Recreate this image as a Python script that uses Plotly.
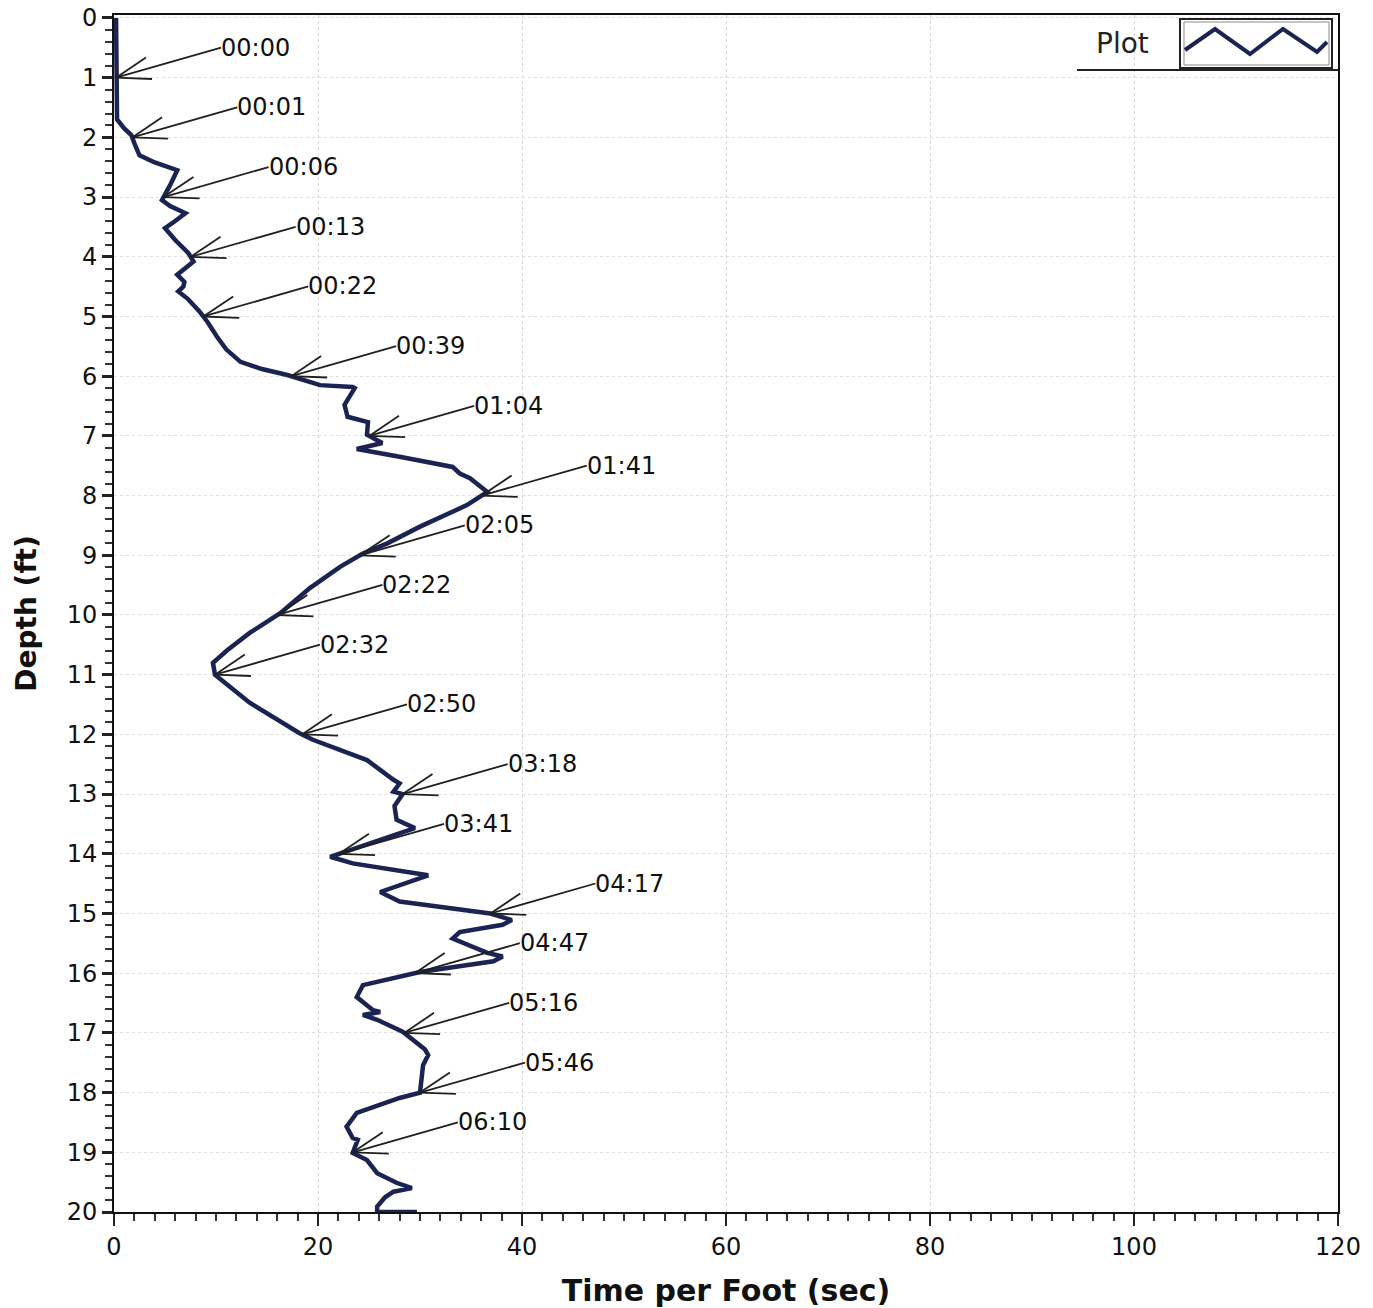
import math
import numpy as np
import plotly.graph_objects as go

# ---- data ----
time_per_foot = [0.2, 0.2, 0.2, 0.3, 1.0, 1.7, 2.0, 2.5, 4.0, 6.2, 5.5, 4.7, 5.5, 7.0, 6.0, 5.0, 6.0,
                 7.3, 7.8, 7.0, 6.2, 6.9, 6.8, 6.3, 7.2, 8.4, 9.2, 10.1, 11.0, 12.4, 14.5, 17.0, 20.2,
                 23.4, 23.6, 22.6, 22.9, 24.9, 24.8, 26.3, 23.8, 28.0, 33.2, 33.9, 34.9, 36.6, 34.6,
                 30.0, 26.8, 24.4, 22.2, 19.2, 18.2, 16.3, 13.3, 11.1, 9.7, 9.9, 13.3, 18.2, 19.5,
                 22.2, 24.8, 27.4, 28.0, 27.4, 28.3, 27.5, 27.7, 29.5, 21.2, 23.4, 30.8, 26.1, 28.0,
                 36.9, 39.0, 38.1, 33.9, 33.2, 35.6, 36.6, 38.1, 37.2, 30.0, 24.4, 23.8, 25.4, 26.1,
                 24.4, 25.8, 28.3, 30.5, 30.8, 30.3, 30.0, 28.0, 23.8, 22.8, 23.4, 23.9, 23.4, 24.8,
                 25.8, 27.7, 28.7, 29.2, 27.4, 26.6, 25.8, 25.8, 29.7]
depth_ft = [0.0, 1.0, 1.55, 1.7, 1.85, 1.96, 2.1, 2.3, 2.42, 2.55, 2.8, 3.05, 3.15, 3.27, 3.4, 3.52, 3.72,
            3.94, 4.08, 4.18, 4.3, 4.42, 4.5, 4.58, 4.7, 4.92, 5.1, 5.34, 5.55, 5.76, 5.88, 5.98, 6.15,
            6.18, 6.2, 6.48, 6.68, 6.77, 6.98, 7.12, 7.22, 7.35, 7.52, 7.63, 7.71, 7.94, 8.16,
            8.52, 8.8, 8.97, 9.19, 9.55, 9.7, 9.97, 10.3, 10.59, 10.8, 11.0, 11.47, 11.98, 12.09,
            12.26, 12.43, 12.76, 12.82, 12.96, 13.0, 13.2, 13.43, 13.57, 14.05, 14.16, 14.36, 14.64, 14.8,
            15.0, 15.11, 15.19, 15.31, 15.42, 15.58, 15.66, 15.72, 15.8, 15.98, 16.2, 16.4, 16.62, 16.65,
            16.7, 16.78, 16.98, 17.28, 17.37, 17.54, 18.0, 18.09, 18.34, 18.57, 18.76, 18.79, 19.01, 19.13,
            19.35, 19.51, 19.58, 19.6, 19.66, 19.75, 19.91, 20.0, 20.0]

label_depths = list(range(1, 20))
label_times = ["00:00", "00:01", "00:06", "00:13", "00:22", "00:39", "01:04", "01:41", "02:05",
               "02:22", "02:32", "02:50", "03:18", "03:41", "04:17", "04:47", "05:16", "05:46", "06:10"]

x_tick_vals = [0, 20, 40, 60, 80, 100, 120]
y_tick_vals = list(range(0, 21))

# ---- style ----
NAVY = "#1a2352"
FONT = "DejaVu Sans"
ARROW_COLOR = "#202020"
ARROW_DX, ARROW_DY = 105, 30      # pixel offset of label from arrow head (up-right)
WING_LEN, WING_ANGLE = 36, math.radians(18)

fig = go.Figure()
fig.add_trace(go.Scatter(x=time_per_foot, y=depth_ft, mode="lines", name="Plot",
                         line=dict(color=NAVY, width=4.5), showlegend=False))

head_x = np.interp(label_depths, depth_ft, time_per_foot)

shapes = []
annotations = []
theta = math.atan2(ARROW_DY, ARROW_DX)
for hx, d, t in zip(head_x, label_depths, label_times):
    hx = float(hx)
    segs = [(ARROW_DX, ARROW_DY)]
    for s in (-1, 1):
        a = theta + s * WING_ANGLE
        segs.append((WING_LEN * math.cos(a), WING_LEN * math.sin(a)))
    for ex, ey in segs:
        shapes.append(dict(type="line", xref="x", yref="y",
                           xsizemode="pixel", xanchor=hx, x0=0, x1=ex,
                           ysizemode="pixel", yanchor=d, y0=0, y1=ey,
                           line=dict(color=ARROW_COLOR, width=1.8)))
    annotations.append(dict(x=hx, y=d, xref="x", yref="y", text=t, showarrow=False,
                            xshift=ARROW_DX - 2, yshift=ARROW_DY, xanchor="left", yanchor="middle",
                            font=dict(family=FONT, size=24, color="#111111")))

# ---- custom legend box (top-right) ----
def px_shape(**kw):
    base = dict(xref="paper", yref="paper", xsizemode="pixel", ysizemode="pixel", xanchor=1, yanchor=1)
    base.update(kw)
    return base

shapes.append(px_shape(type="line", x0=-261, x1=0, y0=-55, y1=-55,
                       line=dict(color="#222222", width=2)))
shapes.append(px_shape(type="rect", x0=-158, x1=-6, y0=-4, y1=-53,
                       line=dict(color="#222222", width=2), fillcolor="white"))
shapes.append(px_shape(type="rect", x0=-154, x1=-9, y0=-7, y1=-50,
                       line=dict(color="#888888", width=1)))
shapes.append(px_shape(type="path",
                       path="M -153,-35 L -123,-14 L -88,-39 L -55,-14 L -21,-37 L -11,-27",
                       line=dict(color=NAVY, width=4)))
annotations.append(dict(xref="paper", yref="paper", x=1, y=1, xshift=-216, yshift=-28,
                        text="Plot", showarrow=False, xanchor="center", yanchor="middle",
                        font=dict(family=FONT, size=28, color="#222222")))

fig.update_layout(
    width=1373, height=1308,
    margin=dict(l=114, r=35, t=15, b=96, autoexpand=False),
    paper_bgcolor="white", plot_bgcolor="white",
    font=dict(family=FONT, color="#111111"),
    shapes=shapes, annotations=annotations,
    showlegend=False,
)
fig.update_xaxes(
    automargin=False,
    range=[0, 120], tickvals=x_tick_vals, ticks="outside", ticklen=12, tickwidth=1.5,
    tickcolor="#222222", tickfont=dict(size=24, family=FONT), ticklabeloverflow="allow",
    minor=dict(dtick=2, ticks="outside", ticklen=7, tickwidth=1.5, tickcolor="#333333", showgrid=False),
    showgrid=True, gridcolor="#d4d4d4", griddash="dot", gridwidth=1,
    showline=True, linecolor="#111111", linewidth=2, mirror=True, zeroline=False,
    title=dict(text="<b>Time per Foot (sec)</b>", font=dict(size=30, family=FONT), standoff=24),
)
fig.update_yaxes(
    automargin=False,
    range=[20, -0.05], tickvals=y_tick_vals, ticks="outside", ticklen=10, tickwidth=2.5,
    tickcolor="#222222", tickfont=dict(size=24, family=FONT), ticklabeloverflow="allow",
    minor=dict(dtick=0.2, ticks="outside", ticklen=7, tickwidth=2, tickcolor="#333333", showgrid=False),
    showgrid=True, gridcolor="#dedede", griddash="dot", gridwidth=1,
    showline=True, linecolor="#111111", linewidth=2, mirror=True, zeroline=False,
    title=dict(text="<b>Depth (ft)</b>", font=dict(size=28, family=FONT), standoff=22),
)

# remove the default 8px page margin so the figure fills the window exactly
fig.write_html("out.html", config={"displayModeBar": False},
               post_script="document.body.style.margin='0px';document.body.style.overflow='hidden';")
